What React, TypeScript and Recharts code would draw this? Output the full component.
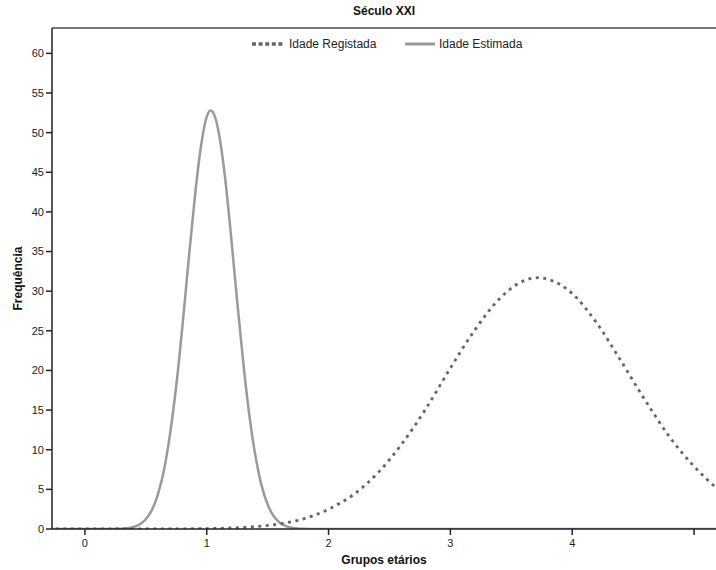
import { LineChart, Line, XAxis, YAxis, ReferenceLine } from "recharts";

// Idade Estimada (solid) — x, frequência
const estimadaX = [-0.3, 0.2, 0.25, 0.3, 0.35, 0.4, 0.45, 0.5, 0.55, 0.6, 0.65, 0.7, 0.75, 0.8, 0.85, 0.9, 0.95, 1.0, 1.03, 1.05, 1.1, 1.15, 1.2, 1.25, 1.3, 1.35, 1.4, 1.45, 1.5, 1.55, 1.6, 1.65, 1.7, 1.75, 1.8, 1.85, 5.3];
const estimadaY = [0, 0, 0.02, 0.04, 0.11, 0.26, 0.59, 1.23, 2.4, 4.4, 7.5, 12.1, 18.1, 25.5, 33.7, 41.5, 48.0, 52.0, 52.8, 52.6, 49.9, 44.4, 36.9, 28.7, 21.0, 14.3, 9.2, 5.5, 3.1, 1.6, 0.79, 0.37, 0.16, 0.06, 0.02, 0, 0];

// Idade Registada (dashed)
const registadaX = [-0.3, 0.6, 0.8, 1.0, 1.2, 1.4, 1.6, 1.8, 2.0, 2.2, 2.4, 2.6, 2.8, 3.0, 3.2, 3.4, 3.6, 3.72, 3.8, 4.0, 4.2, 4.4, 4.6, 4.8, 5.0, 5.2, 5.3];
const registadaY = [0, 0, 0.02, 0.05, 0.13, 0.3, 0.65, 1.3, 2.5, 4.3, 7.0, 10.7, 15.2, 20.3, 25.1, 29.0, 31.3, 31.7, 31.5, 29.7, 26.0, 21.2, 16.2, 11.6, 7.9, 5.0, 3.9];

const xTicks = [0, 1, 2, 3, 4, 5];
const yTicks = [0, 5, 10, 15, 20, 25, 30, 35, 40, 45, 50, 55, 60];

const estimada = estimadaX.map((x, i) => ({ x, y: estimadaY[i] }));
const registada = registadaX.map((x, i) => ({ x, y: registadaY[i] }));

const FONT = "'Liberation Sans', Arial, sans-serif";
const NARROW = "'Liberation Sans Narrow', 'Liberation Sans', Arial, sans-serif";

function ChartLegend() {
  return (
    <svg width={716} height={18} style={{ position: "absolute", left: 0, top: 35 }}>
      <line x1={252} x2={284} y1={9} y2={9} stroke="#666" strokeWidth={3.5} strokeDasharray="4 2.6" />
      <text x={289} y={13} fontSize={12} fill="#222" fontFamily={FONT}>
        Idade Registada
      </text>
      <line x1={405} x2={435} y1={9} y2={9} stroke="#999" strokeWidth={3} />
      <text x={439} y={13} fontSize={12} fill="#222" fontFamily={FONT}>
        Idade Estimada
      </text>
    </svg>
  );
}

export default function App() {
  return (
    <div style={{ position: "absolute", left: 0, top: 0, width: 716, height: 570, background: "#fff" }}>
      <div
        style={{
          position: "absolute",
          top: 4,
          left: 0,
          width: 716,
          textAlign: "center",
          fontFamily: FONT,
          fontWeight: "bold",
          fontSize: 12,
          color: "#111",
          paddingLeft: 52,
          boxSizing: "border-box",
        }}
      >
        Século XXI
      </div>
      <LineChart width={716} height={570} margin={{ top: 28, right: 0, bottom: 0, left: 0 }}>
        <XAxis
          type="number"
          dataKey="x"
          domain={[-0.27, 5.18]}
          allowDataOverflow
          ticks={xTicks}
          tickFormatter={(v: number) => (v === 5 ? "" : String(v))}
          height={41}
          tickSize={6}
          tickMargin={4}
          stroke="#222"
          strokeWidth={1.5}
          tick={{ fontSize: 11, fill: "#222", fontFamily: NARROW }}
          label={{
            value: "Grupos etários",
            position: "insideBottom",
            offset: 6,
            style: { fontSize: 12, fontWeight: "bold", fill: "#111", fontFamily: NARROW },
          }}
        />
        <YAxis
          type="number"
          domain={[0, 63.2]}
          allowDataOverflow
          ticks={yTicks}
          width={52}
          tickSize={6}
          tickMargin={2}
          stroke="#222"
          strokeWidth={1.5}
          tick={{ fontSize: 11, fill: "#222", fontFamily: NARROW }}
          label={{
            value: "Frequência",
            angle: -90,
            position: "insideLeft",
            offset: 18,
            style: { textAnchor: "middle", fontSize: 12, fontWeight: "bold", fill: "#111", fontFamily: NARROW },
          }}
        />
        <ReferenceLine y={63.2} stroke="#777" strokeWidth={2} />
        <Line
          data={estimada}
          dataKey="y"
          name="Idade Estimada"
          type="monotone"
          stroke="#9a9a9a"
          strokeWidth={2.5}
          dot={false}
          activeDot={false}
          isAnimationActive={false}
        />
        <Line
          data={registada}
          dataKey="y"
          name="Idade Registada"
          type="monotone"
          stroke="#666"
          strokeWidth={2.8}
          strokeDasharray="3 4.5"
          dot={false}
          activeDot={false}
          isAnimationActive={false}
        />
      </LineChart>
      <ChartLegend />
    </div>
  );
}
